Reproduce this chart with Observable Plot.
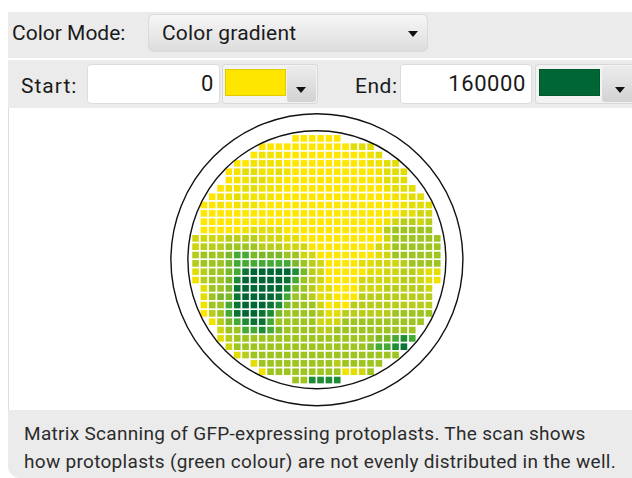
<!DOCTYPE html>
<html>
<head>
<meta charset="utf-8">
<script src="https://cdn.jsdelivr.net/npm/d3@7"></script>
<script src="https://cdn.jsdelivr.net/npm/@observablehq/plot@0.6"></script>
<style>
html, body { margin: 0; padding: 0; background: #fff; }
body { width: 632px; height: 478px; position: relative; overflow: hidden;
       font-family: Roboto, "Noto Sans", "DejaVu Sans", sans-serif; color: #1a1a1a; }
.abs { position: absolute; }
.panel { left: 8px; top: 12px; width: 624px; height: 96px; background: #ebebeb; }
.sep { left: 8px; top: 58px; width: 624px; height: 2px; background: #fff; }
.lbl { font-size: 21px; line-height: 24px; white-space: nowrap; }
.drop { left: 148px; top: 14px; width: 280px; height: 38px; border-radius: 6px;
        background: linear-gradient(#f7f7f7, #dcdcdc); box-shadow: inset 0 0 0 1px #dadada;
        font-size: 21px; line-height: 38px; box-sizing: border-box; padding-left: 14px; letter-spacing: 0.2px; }
.tri { width: 0; height: 0; border-left: 5px solid transparent; border-right: 5px solid transparent;
       border-top: 6px solid #111; }
.inp { top: 64px; height: 40px; background: #fff; border-radius: 4px; box-shadow: inset 0 0 0 1px #dcdcdc;
       font-size: 22px; line-height: 40px; text-align: right; box-sizing: border-box; padding-right: 6px; letter-spacing: 0.6px; }
.sw { top: 64px; height: 40px; border-radius: 4px; background: #f3f3f3; box-shadow: inset 0 0 0 1px #d8d8d8; }
.swc { top: 69px; width: 61px; height: 27px; box-shadow: inset 0 0 0 1px rgba(0,0,0,0.12); }
.swa { top: 66px; width: 29px; height: 36px; border-radius: 3px; background: linear-gradient(#ececec, #d2d2d2); }
#chart { left: 8px; top: 108px; width: 624px; height: 302px; background: #fff; box-shadow: inset 1px 0 0 #dedede; }
#chart svg { display: block; }
.cap { left: 8px; top: 410px; width: 624px; height: 68px; background: #ebebeb; border-bottom-left-radius: 12px;
       box-sizing: border-box; padding: 10px 0 0 16px; font-size: 19px; line-height: 28px; letter-spacing: 0.3px;
       color: #2b2b2b; white-space: nowrap; }
</style>
</head>
<body>
<div class="abs panel"></div>
<div class="abs sep"></div>
<div class="abs lbl" style="left:12px; top:21px;">Color Mode:</div>
<div class="abs drop">Color gradient</div>
<div class="abs tri" style="left:408px; top:31px;"></div>

<div class="abs lbl" style="left:21px; top:74px; letter-spacing:1px;">Start:</div>
<div class="abs inp" id="startInput" style="left:87px; width:133px;"></div>
<div class="abs sw" style="left:222px; width:96px;"></div>
<div class="abs swc" id="startSwatch" style="left:225px;"></div>
<div class="abs swa" style="left:287px;"></div>
<div class="abs tri" style="left:296px; top:87px;"></div>

<div class="abs lbl" style="left:355px; top:74px; letter-spacing:0.5px;">End:</div>
<div class="abs inp" id="endInput" style="left:400px; width:132px;"></div>
<div class="abs sw" style="left:535px; width:100px;"></div>
<div class="abs swc" id="endSwatch" style="left:539px;"></div>
<div class="abs swa" style="left:602px; width:32px;"></div>
<div class="abs tri" style="left:615px; top:87px;"></div>

<div class="abs" id="chart"></div>
<div class="abs cap">Matrix Scanning of GFP-expressing protoplasts. The scan shows<br>how protoplasts (green colour) are not evenly distributed in the well.</div>

<script>
// ---- data ----
const startValue = 0;
const endValue = 160000;
const levelStep = 16000;            // one level character = 16000 counts
const gradientStops = [0, 16000, 32000, 48000, 64000, 80000, 96000, 112000, 128000, 144000, 160000];
const gradientColors = ["#ffe600", "#f2e200", "#e3dd06", "#cfd610", "#b7cd19", "#9dc41f",
                        "#7bb827", "#45aa34", "#1e8c35", "#0b7434", "#006633"];
// first scanned column of each row of the 30 x 30 matrix
const rowStart = [12, 8, 7, 5, 4, 4, 3, 2, 1, 1, 1, 1, 0, 0, 0, 0, 0, 0, 1, 1, 1, 1, 2, 3, 3, 4, 5, 7, 8, 12];
// scanned levels per row (hex digit, 0..a)
const rowLevels = [
  "000000",
  "00000000000222",
  "0111000000000012",
  "00111100000000001122",
  "0122112100000000001222",
  "0112211000000000001222",
  "011221110000000000001222",
  "01121111000000000000001122",
  "0010111000000000000000001222",
  "0000000000000000000000002233",
  "0000000000000000000000134434",
  "0000012222000000000001455555",
  "333344443332200000000003555555",
  "344455554443330000000033555555",
  "455567766665533000000023555555",
  "455567777777654300002233345555",
  "2455679aaaaa864300000223344322",
  "145568aaaaa9754300003333344321",
  "25569aaaaa865422000333444443",
  "25669aaaa9755422000444444444",
  "15579aaa98655530104444444444",
  "04579aa986555542244444455555",
  "14678997555553335555555555",
  "355778765555445555555555",
  "245555555555555555566787",
  "3555555555555555567789",
  "24555555555555555555",
  "2555555555455555",
  "15555555551235",
  "558888"
];
const wellCenter = [{col: 15, row: 15}];

// ---- build table ----
const cells = [];
rowLevels.forEach((s, r) => {
  [...s].forEach((ch, i) => cells.push({row: r, col: rowStart[r] + i, value: parseInt(ch, 16) * levelStep}));
});

document.getElementById("startInput").textContent = startValue;
document.getElementById("endInput").textContent = endValue;
document.getElementById("startSwatch").style.background = gradientColors[0];
document.getElementById("endSwatch").style.background = gradientColors[gradientColors.length - 1];

const chart = Plot.plot({
  width: 624,
  height: 302,
  margin: 0,
  style: {background: "transparent"},
  x: {domain: [0, 30], range: [183.4, 433.4], axis: null},
  y: {domain: [0, 30], range: [26.2, 276.2], axis: null},
  color: {type: "linear", domain: gradientStops, range: gradientColors},
  marks: [
    Plot.rect(cells, {x1: "col", x2: d => d.col + 1, y1: "row", y2: d => d.row + 1, fill: "value", inset: 0.85}),
    Plot.dot(wellCenter, {x: "col", y: "row", r: 129, fill: "none", stroke: "#111", strokeWidth: 1.4}),
    Plot.dot(wellCenter, {x: "col", y: "row", r: 146, fill: "none", stroke: "#111", strokeWidth: 1.4})
  ]
});
document.getElementById("chart").appendChild(chart);
</script>
</body>
</html>
